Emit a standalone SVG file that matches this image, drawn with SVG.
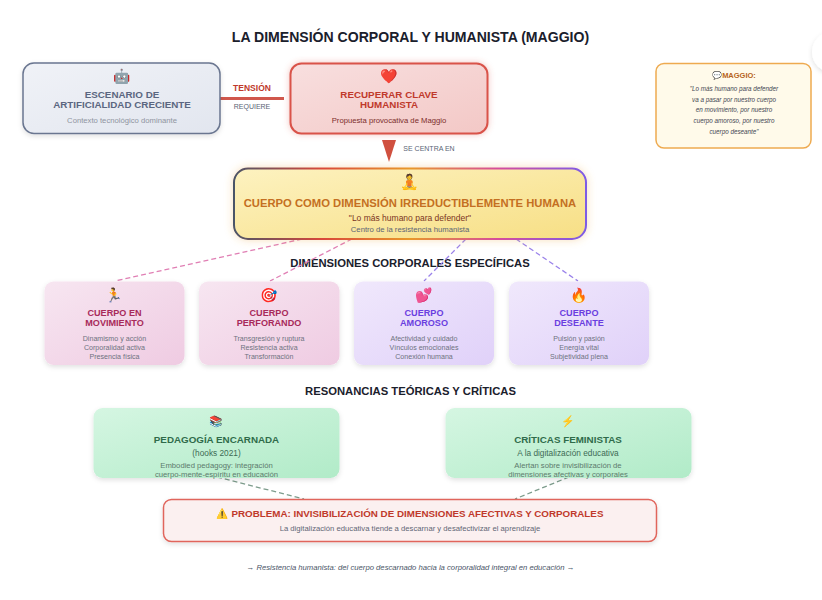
<svg xmlns="http://www.w3.org/2000/svg" width="822" height="600" viewBox="0 0 822 600">
<defs>
<linearGradient id="gGray" x1="0" y1="0" x2="1" y2="1"><stop offset="0" stop-color="#f0f2f7"/><stop offset="1" stop-color="#e2e6ef"/></linearGradient>
<linearGradient id="gRed" x1="0" y1="0" x2="1" y2="1"><stop offset="0" stop-color="#f8dfdf"/><stop offset="1" stop-color="#f3c8c6"/></linearGradient>
<linearGradient id="gYel" x1="0" y1="0" x2="1" y2="1"><stop offset="0" stop-color="#fdf2c0"/><stop offset="1" stop-color="#f7df85"/></linearGradient>
<linearGradient id="gBorder" x1="0" y1="0" x2="1" y2="0"><stop offset="0" stop-color="#4a5568"/><stop offset="0.25" stop-color="#d9483b"/><stop offset="0.5" stop-color="#e8982a"/><stop offset="0.75" stop-color="#d64d9c"/><stop offset="1" stop-color="#7c5ce6"/></linearGradient>
<linearGradient id="gPink" x1="0" y1="0" x2="1" y2="1"><stop offset="0" stop-color="#f7e6f1"/><stop offset="1" stop-color="#efcbe2"/></linearGradient>
<linearGradient id="gPur" x1="0" y1="0" x2="1" y2="1"><stop offset="0" stop-color="#f0e8fc"/><stop offset="1" stop-color="#e0d1f9"/></linearGradient>
<linearGradient id="gGrn" x1="0" y1="0" x2="1" y2="1"><stop offset="0" stop-color="#d5f6e2"/><stop offset="1" stop-color="#b1ebc8"/></linearGradient>
<filter id="sh" x="-10%" y="-10%" width="120%" height="130%"><feDropShadow dx="0" dy="2" stdDeviation="2.5" flood-color="#000" flood-opacity="0.12"/></filter>
<filter id="glowR" x="-10%" y="-10%" width="120%" height="125%"><feDropShadow dx="0" dy="0" stdDeviation="3" flood-color="#d9534a" flood-opacity="0.35"/></filter>
<filter id="glowY" x="-10%" y="-15%" width="120%" height="130%"><feDropShadow dx="0" dy="0" stdDeviation="4" flood-color="#e8a33d" flood-opacity="0.35"/></filter>
</defs>
<style>
text{font-family:"Liberation Sans",Arial,sans-serif;text-anchor:middle}
.emo{font-family:"Noto Color Emoji","Liberation Sans",sans-serif}
.b{font-weight:700}
.sec{font-size:11.25px;font-weight:700;fill:#1a202c}
.card{font-size:9.8px;font-weight:700}
.dim{font-size:9.1px;font-weight:700}
.sm{font-size:7.1px;fill:#6e7280}
.lbl{font-size:7px;fill:#5a6475}
.q{font-size:6.3px;font-style:italic;fill:#3f4653}
.note{font-size:7.7px}
.dash{fill:none;stroke-width:1.3;stroke-dasharray:5 3}
</style>
<rect width="822" height="600" fill="#fff"/>
<circle cx="832" cy="52" r="20" fill="#fff" filter="url(#sh)"/>
<text x="410.500" y="41.500" font-size="14.070" class="b" fill="#1a202c">LA DIMENSIÓN CORPORAL Y HUMANISTA (MAGGIO)</text>
<text x="410" y="267" class="sec">DIMENSIONES CORPORALES ESPECÍFICAS</text>
<text x="410.500" y="394.500" class="sec">RESONANCIAS TEÓRICAS Y CRÍTICAS</text>
<g id="connectors">
<line x1="220" y1="98.500" x2="284" y2="98.500" stroke="#d0574c" stroke-width="3"/>
<polygon points="382,140 396,140 389,162" fill="#d0503f"/>
<path class="dash" stroke="#e07fb4" d="M302 239L115 281"/>
<path class="dash" stroke="#e07fb4" d="M352 239L270 281"/>
<path class="dash" stroke="#9a82ea" d="M466 239L424 281"/>
<path class="dash" stroke="#9a82ea" d="M516 239L578 281"/>
<path class="dash" stroke="#7d9c8c" d="M217 477L304 499"/>
<path class="dash" stroke="#7d9c8c" d="M569 477L515 499"/>
<text x="252" y="91" font-size="8.500" class="b" fill="#c0392b">TENSIÓN</text>
<text x="252" y="109" class="lbl">REQUIERE</text>
<text x="429" y="151" class="lbl">SE CENTRA EN</text>
</g>
<g id="n-escenario">
<rect x="23" y="63" width="197" height="70.500" rx="11" fill="url(#gGray)" stroke="#6a7690" stroke-width="1.500" filter="url(#sh)"/>
<text x="122" y="81" font-size="14" class="emo">🤖</text>
<text x="122" y="98" class="card" fill="#5a6680">ESCENARIO DE</text>
<text x="122" y="108" class="card" fill="#5a6680">ARTIFICIALIDAD CRECIENTE</text>
<text x="122" y="123" class="note" fill="#8f94a0">Contexto tecnológico dominante</text>
</g>
<g id="n-recuperar">
<rect x="290.500" y="63.500" width="197" height="70" rx="11" fill="url(#gRed)" stroke="#d9534a" stroke-width="2" filter="url(#glowR)"/>
<text x="389" y="81" font-size="14" class="emo">❤️</text>
<text x="389" y="98" class="card" fill="#c0392b">RECUPERAR CLAVE</text>
<text x="389" y="108" class="card" fill="#c0392b">HUMANISTA</text>
<text x="389" y="123" class="note" fill="#7b2d2a">Propuesta provocativa de Maggio</text>
</g>
<g id="n-cita">
<rect x="656" y="63.500" width="155" height="84.500" rx="8" fill="#fffaea" stroke="#eeaa50" stroke-width="1.500"/>
<text x="717" y="77.500" font-size="8" class="emo">💬</text>
<text x="739" y="77.500" font-size="7.500" class="b" fill="#b7651c">MAGGIO:</text>
<text x="734" y="90.500" class="q">"Lo más humano para defender</text>
<text x="734" y="102" class="q">va a pasar por nuestro cuerpo</text>
<text x="734" y="112" class="q">en movimiento, por nuestro</text>
<text x="734" y="123" class="q">cuerpo amoroso, por nuestro</text>
<text x="734" y="134" class="q">cuerpo deseante"</text>
</g>
<g id="n-centro">
<rect x="234" y="168.500" width="352" height="70.500" rx="14" fill="url(#gYel)" stroke="url(#gBorder)" stroke-width="2" filter="url(#glowY)"/>
<text x="410" y="187" font-size="15" class="emo">🧘</text>
<text x="410" y="207" font-size="11.250" class="b" fill="#c46f22">CUERPO COMO DIMENSIÓN IRREDUCTIBLEMENTE HUMANA</text>
<text x="410" y="221" font-size="8.500" fill="#7b341e">"Lo más humano para defender"</text>
<text x="410" y="232" class="note" fill="#5a6475">Centro de la resistencia humanista</text>
</g>
<g id="n-movimiento">
<rect x="44.500" y="281.500" width="140" height="83.500" rx="9" fill="url(#gPink)" filter="url(#sh)"/>
<text x="114.500" y="300" font-size="14" class="emo">🏃</text>
<text x="114.500" y="316" class="dim" fill="#a82a5a">CUERPO EN</text>
<text x="114.500" y="326" class="dim" fill="#a82a5a">MOVIMIENTO</text>
<text x="114.500" y="341" class="sm">Dinamismo y acción</text>
<text x="114.500" y="350" class="sm">Corporalidad activa</text>
<text x="114.500" y="359" class="sm">Presencia física</text>
</g>
<g id="n-perforando">
<rect x="199" y="281.500" width="140.500" height="83.500" rx="9" fill="url(#gPink)" filter="url(#sh)"/>
<text x="269" y="300" font-size="14" class="emo">🎯</text>
<text x="269" y="316" class="dim" fill="#a82a5a">CUERPO</text>
<text x="269" y="326" class="dim" fill="#a82a5a">PERFORANDO</text>
<text x="269" y="341" class="sm">Transgresión y ruptura</text>
<text x="269" y="350" class="sm">Resistencia activa</text>
<text x="269" y="359" class="sm">Transformación</text>
</g>
<g id="n-amoroso">
<rect x="354" y="281.500" width="140" height="83.500" rx="9" fill="url(#gPur)" filter="url(#sh)"/>
<text x="424" y="300" font-size="14" class="emo">💕</text>
<text x="424" y="316" class="dim" fill="#6a3ee0">CUERPO</text>
<text x="424" y="326" class="dim" fill="#6a3ee0">AMOROSO</text>
<text x="424" y="341" class="sm">Afectividad y cuidado</text>
<text x="424" y="350" class="sm">Vínculos emocionales</text>
<text x="424" y="359" class="sm">Conexión humana</text>
</g>
<g id="n-deseante">
<rect x="509" y="281.500" width="140" height="83.500" rx="9" fill="url(#gPur)" filter="url(#sh)"/>
<text x="579" y="300" font-size="14" class="emo">🔥</text>
<text x="579" y="316" class="dim" fill="#6a3ee0">CUERPO</text>
<text x="579" y="326" class="dim" fill="#6a3ee0">DESEANTE</text>
<text x="579" y="341" class="sm">Pulsión y pasión</text>
<text x="579" y="350" class="sm">Energía vital</text>
<text x="579" y="359" class="sm">Subjetividad plena</text>
</g>
<g id="n-pedagogia">
<rect x="93.500" y="408" width="246" height="70" rx="9" fill="url(#gGrn)" filter="url(#sh)"/>
<text x="216.500" y="425" font-size="11" class="emo">📚</text>
<text x="216.500" y="443" class="card" fill="#2f6b4a">PEDAGOGÍA ENCARNADA</text>
<text x="216.500" y="456" font-size="8.300" fill="#3d6b55">(hooks 2021)</text>
<text x="216.500" y="468" class="note" fill="#5c7a6c">Embodied pedagogy: integración</text>
<text x="216.500" y="477" class="note" fill="#5c7a6c">cuerpo-mente-espíritu en educación</text>
</g>
<g id="n-criticas">
<rect x="445.500" y="408" width="246" height="70" rx="9" fill="url(#gGrn)" filter="url(#sh)"/>
<text x="568" y="425" font-size="11" class="emo">⚡</text>
<text x="568" y="443" class="card" fill="#2f6b4a">CRÍTICAS FEMINISTAS</text>
<text x="568" y="456" font-size="8.300" fill="#3d6b55">A la digitalización educativa</text>
<text x="568" y="468" class="note" fill="#5c7a6c">Alertan sobre invisibilización de</text>
<text x="568" y="477" class="note" fill="#5c7a6c">dimensiones afectivas y corporales</text>
</g>
<g id="n-problema">
<rect x="163.500" y="499.500" width="493" height="42" rx="8" fill="#fbf0f0" stroke="#e0655c" stroke-width="1.500" filter="url(#sh)"/>
<text x="410" y="517" class="card" fill="#c0392b"><tspan class="emo">⚠️</tspan> PROBLEMA: INVISIBILIZACIÓN DE DIMENSIONES AFECTIVAS Y CORPORALES</text>
<text x="410" y="531" class="note" fill="#5f6675">La digitalización educativa tiende a descarnar y desafectivizar el aprendizaje</text>
</g>
<text x="410.500" y="570" class="note" font-style="italic" fill="#4a5568">→ Resistencia humanista: del cuerpo descarnado hacia la corporalidad integral en educación →</text>
</svg>
